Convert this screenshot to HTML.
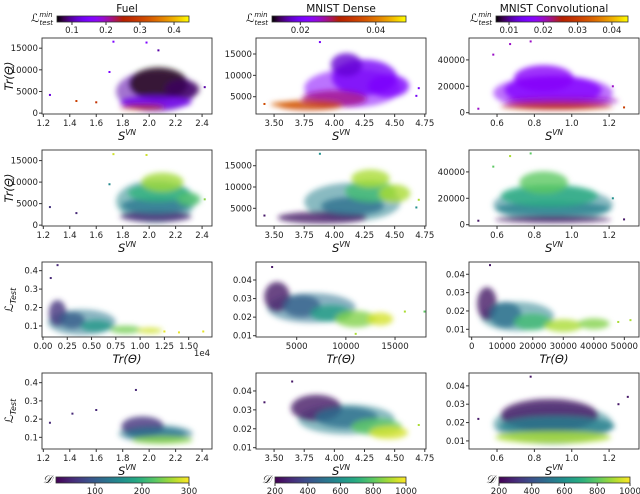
<!DOCTYPE html>
<html><head><meta charset="utf-8">
<style>
body{margin:0;background:#fff;}
svg{display:block;font-family:"DejaVu Sans","Liberation Sans",sans-serif;}
.tk{font-size:8.6px;fill:#222;}
.ttl{font-size:10.5px;fill:#111;}
.lbl{font-size:11.5px;fill:#111;font-style:italic;font-family:"DejaVu Sans","Liberation Sans",sans-serif;}
</style></head>
<body>
<svg id="fig" width="640" height="494" viewBox="0 0 640 494">
<defs><filter id="bl" x="-30%" y="-30%" width="160%" height="160%"><feGaussianBlur stdDeviation="2.6"/></filter></defs>
</svg>
<script>
// ---- data (estimated from reference) ----
const colTitles = ["Fuel","MNIST Dense","MNIST Convolutional"];
// clusters: [x, y, rx, ry, colorValue]
const p1Clusters = [[2.05,5000,0.3,4800,0.1],[2.07,6800,0.22,3800,0.06],[2.25,5500,0.13,2200,0.08],[2.05,2500,0.27,1500,0.13],[1.95,1400,0.17,600,0.25]];
const p1Points = [[1.25,4200,0.12],[1.45,2800,0.3],[1.73,16500,0.15],[1.98,16300,0.15],[2.07,14500,0.1],[1.7,9500,0.15],[2.42,6000,0.1],[1.6,2500,0.28]];
const p2Clusters = [[4.15,7000,0.4,4500,0.022],[4.25,9500,0.27,4200,0.02],[4.45,7500,0.17,2700,0.021],[4.1,12500,0.13,2700,0.018],[4.0,4500,0.27,2000,0.027],[3.8,3000,0.27,1200,0.035],[3.6,3200,0.13,600,0.038]];
const p2Points = [[3.42,3300,0.036],[3.88,17800,0.02],[4.68,5200,0.02],[4.7,7000,0.02]];
const p3Clusters = [[0.9,15000,0.32,13000,0.017],[0.9,17000,0.26,11000,0.016],[0.85,26000,0.16,10000,0.017],[0.95,9000,0.3,3000,0.02],[0.92,5000,0.3,3000,0.028]];
const p3Points = [[0.5,3000,0.02],[0.58,44000,0.02],[0.67,52000,0.02],[0.78,54000,0.02],[1.28,4000,0.03],[1.22,20000,0.02]];
const p4Clusters = [[2.05,5500,0.3,5000,150],[2.05,2000,0.27,1300,50],[2.05,4500,0.26,1900,130],[2.07,7500,0.23,2100,200],[2.1,10000,0.16,2200,260],[2.3,6000,0.09,1600,220]];
const p4Points = [[1.25,4200,60],[1.45,2800,50],[1.73,16500,280],[1.98,16300,280],[1.7,9500,150],[2.42,6000,250]];
const p5Clusters = [[4.15,6500,0.4,4500,550],[3.9,2800,0.37,1400,250],[4.15,5500,0.26,2100,500],[4.3,9000,0.21,2600,750],[4.3,12000,0.16,2100,900],[4.5,8500,0.13,2100,900]];
const p5Points = [[3.42,3300,250],[3.88,17800,600],[4.68,5200,600],[4.7,7000,900]];
const p6Clusters = [[0.9,15000,0.32,13000,550],[0.9,4000,0.31,2600,250],[0.9,12000,0.31,5200,550],[0.88,22000,0.26,8500,700],[0.85,32000,0.13,8500,800]];
const p6Points = [[0.5,3000,250],[0.58,44000,800],[0.67,52000,900],[0.78,54000,800],[1.28,4000,250],[1.22,20000,600]];
const p7Clusters = [[0.4,0.12,0.35,0.07,130],[0.15,0.17,0.09,0.07,60],[0.3,0.13,0.13,0.045,100],[0.55,0.1,0.16,0.032,170],[0.85,0.08,0.16,0.022,240],[1.1,0.075,0.13,0.016,280]];
const p7Points = [[0.15,0.43,50],[0.08,0.36,50],[1.65,0.07,290],[1.25,0.07,290],[1.4,0.065,290]];
const p8Clusters = [[6500,0.025,4500,0.008,500],[3000,0.031,1300,0.008,250],[5500,0.026,1900,0.006,450],[8500,0.022,2100,0.0045,650],[11000,0.019,2100,0.0045,850],[13500,0.019,1300,0.0035,950]];
const p8Points = [[2500,0.047,250],[18000,0.023,800],[16000,0.023,900],[11000,0.011,900]];
const p9Clusters = [[15000,0.017,12000,0.008,550],[5000,0.024,3200,0.009,250],[11000,0.018,5200,0.007,500],[20000,0.014,6200,0.0045,750],[30000,0.012,6200,0.0035,900],[40000,0.013,5200,0.003,850]];
const p9Points = [[6000,0.045,250],[52000,0.015,900],[48000,0.014,900]];
const p10Clusters = [[2.05,0.12,0.28,0.05,130],[1.95,0.16,0.16,0.055,60],[2.05,0.12,0.23,0.032,130],[2.1,0.085,0.23,0.022,250]];
const p10Points = [[1.25,0.18,50],[1.42,0.23,50],[1.9,0.36,50],[1.6,0.25,50]];
const p11Clusters = [[4.1,0.025,0.4,0.008,550],[3.85,0.031,0.21,0.007,250],[4.1,0.026,0.26,0.0055,500],[4.35,0.021,0.21,0.0045,800],[4.45,0.018,0.16,0.0035,950]];
const p11Points = [[3.42,0.034,250],[3.65,0.045,250],[4.7,0.022,900]];
const p12Clusters = [[0.9,0.019,0.32,0.011,550],[0.88,0.024,0.26,0.009,250],[0.92,0.018,0.31,0.0055,550],[0.9,0.012,0.31,0.0035,900]];
const p12Points = [[0.5,0.022,250],[0.78,0.045,250],[1.3,0.034,250],[1.25,0.03,250]];
// tick labels
const xTicksFuelS = [1.2,1.4,1.6,1.8,2.0,2.2,2.4];
const xTicksDenseS = [3.50,3.75,4.00,4.25,4.50,4.75];
const xTicksConvS = [0.6,0.8,1.0,1.2];
const yTicksTrFuel = [0,5000,10000,15000];
const yTicksTrDense = [5000,10000,15000];
const yTicksTrConv = [0,20000,40000];
const xTicksTrFuel = [0.00,0.25,0.50,0.75,1.00,1.25,1.50];
const xTicksTrDense = [5000,10000,15000];
const xTicksTrConv = [0,10000,20000,30000,40000,50000];
const yTicksLFuel = [0.1,0.2,0.3,0.4];
const yTicksLMnist = [0.01,0.02,0.03,0.04];
const topCbTicks = [[0.1,0.2,0.3,0.4],[0.02,0.04],[0.01,0.02,0.03,0.04]];
const topCbRange = [[0.056,0.444],[0.0125,0.048],[0.0062,0.0447]];
const botCbTicks = [[100,200,300],[200,400,600,800,1000],[200,400,600,800,1000]];
const botCbRange = [[17,300],[200,1000],[200,1000]];

// ---- colormaps ----
function gnuplot(t){t=Math.max(0,Math.min(1,t));const r=Math.sqrt(t),g=t*t*t,b=Math.max(0,Math.sin(2*Math.PI*t));return `rgb(${Math.round(r*255)},${Math.round(g*255)},${Math.round(b*255)})`;}
const vir=[[68,1,84],[71,44,122],[59,81,139],[44,113,142],[33,144,141],[39,173,129],[92,200,99],[170,220,50],[253,231,37]];
function viridis(t){t=Math.max(0,Math.min(1,t));const f=t*(vir.length-1),i=Math.min(vir.length-2,Math.floor(f)),u=f-i;const c=vir[i].map((v,k)=>Math.round(v+(vir[i+1][k]-v)*u));return `rgb(${c[0]},${c[1]},${c[2]})`;}

const svg=document.getElementById('fig');const NS='http://www.w3.org/2000/svg';
function mk(tag,attrs,parent){const e=document.createElementNS(NS,tag);for(const k in attrs)e.setAttribute(k,attrs[k]);(parent||svg).appendChild(e);return e;}
const colX=[[42,212],[256,426],[469,639]];
const rowY=[[38,114],[150,226],[262,337],[373,449]];
function fmt(v,d){return v.toFixed(d);}
function panel(r,c,xr,yr,xt,xd,yt,yd,clusters,points,cmap,cr,name){
  const [x0,x1]=colX[c],[y0,y1]=rowY[r];
  const sx=v=>x0+(v-xr[0])/(xr[1]-xr[0])*(x1-x0);
  const sy=v=>y1-(v-yr[0])/(yr[1]-yr[0])*(y1-y0);
  const col=v=>cmap((v-cr[0])/(cr[1]-cr[0]));
  const g=mk('g',{});
  
  
  const clip=mk('clipPath',{id:'c'+r+c},g);mk('rect',{x:x0,y:y0,width:x1-x0,height:y1-y0},clip);
  const pts=mk('g',{'clip-path':`url(#c${r}${c})`},g);
  const bl=mk('g',{filter:'url(#bl)'},pts);
  clusters.forEach((d,i)=>{const e=mk('ellipse',{cx:sx(d[0]),cy:sy(d[1]),rx:Math.abs(sx(d[0]+d[2])-sx(d[0])),ry:Math.abs(sy(d[1]+d[3])-sy(d[1])),fill:col(d[4]),opacity:i===0?0.55:0.8},bl);
    
    });
  points.forEach(d=>{const e=mk('rect',{x:sx(d[0])-1,y:sy(d[1])-1,width:2,height:2,fill:col(d[2])},pts);
    
    });
  mk('rect',{x:x0,y:y0,width:x1-x0,height:y1-y0,fill:'none',stroke:'#333','stroke-width':0.9},g);
  xt.forEach(v=>{const X=sx(v);mk('line',{x1:X,x2:X,y1:y1,y2:y1+3,stroke:'#333'},g);const t=mk('text',{x:X,y:y1+12,'text-anchor':'middle',class:'tk'},g);t.textContent=fmt(v,xd);});
  yt.forEach(v=>{const Y=sy(v);mk('line',{x1:x0-3,x2:x0,y1:Y,y2:Y,stroke:'#333'},g);const t=mk('text',{x:x0-4,y:Y+3,'text-anchor':'end',class:'tk'},g);t.textContent=fmt(v,yd);});
}
const cF=[0.056,0.444],cD=[0.0125,0.048],cC=[0.0062,0.0447],dF=[17,300],dM=[200,1000];
panel(0,0,[1.19,2.475],[-200,17350],xTicksFuelS,1,yTicksTrFuel,0,p1Clusters,p1Points,gnuplot,cF,'fuel-trace-vs-entropy');
panel(0,1,[3.35,4.76],[950,18750],xTicksDenseS,2,yTicksTrDense,0,p2Clusters,p2Points,gnuplot,cD,'dense-trace-vs-entropy');
panel(0,2,[0.45,1.36],[-1000,56600],xTicksConvS,1,yTicksTrConv,0,p3Clusters,p3Points,gnuplot,cC,'conv-trace-vs-entropy');
panel(1,0,[1.19,2.475],[-200,17460],xTicksFuelS,1,yTicksTrFuel,0,p4Clusters,p4Points,viridis,dF,'fuel-trace-vs-entropy-d');
panel(1,1,[3.35,4.76],[845,18690],xTicksDenseS,2,yTicksTrDense,0,p5Clusters,p5Points,viridis,dM,'dense-trace-vs-entropy-d');
panel(1,2,[0.45,1.36],[-1000,56600],xTicksConvS,1,yTicksTrConv,0,p6Clusters,p6Points,viridis,dM,'conv-trace-vs-entropy-d');
panel(2,0,[-0.01,1.74],[0.04,0.447],xTicksTrFuel,2,yTicksLFuel,1,p7Clusters,p7Points,viridis,dF,'fuel-loss-vs-trace');
panel(2,1,[860,18150],[0.0093,0.0497],xTicksTrDense,0,yTicksLMnist,2,p8Clusters,p8Points,viridis,dM,'dense-loss-vs-trace');
panel(2,2,[-880,54800],[0.0058,0.0467],xTicksTrConv,0,yTicksLMnist,2,p9Clusters,p9Points,viridis,dM,'conv-loss-vs-trace');
panel(3,0,[1.19,2.475],[0.036,0.453],xTicksFuelS,1,yTicksLFuel,1,p10Clusters,p10Points,viridis,dF,'fuel-loss-vs-entropy');
panel(3,1,[3.35,4.76],[0.0093,0.0495],xTicksDenseS,2,yTicksLMnist,2,p11Clusters,p11Points,viridis,dM,'dense-loss-vs-entropy');
panel(3,2,[0.45,1.36],[0.0056,0.047],xTicksConvS,1,yTicksLMnist,2,p12Clusters,p12Points,viridis,dM,'conv-loss-vs-entropy');

// axis labels
function txt(x,y,s,cls,name,rot){const t=mk('text',{x:x,y:y,'text-anchor':'middle',class:cls});if(rot)t.setAttribute('transform',`rotate(-90 ${x} ${y})`);t.innerHTML=s;return t;}
const SVN='S<tspan font-size="7.5" dy="-5">VN</tspan>';
[0,1,3].forEach(r=>colX.forEach((cx,c)=>txt((cx[0]+cx[1])/2,rowY[r][1]+26,SVN,'lbl','x-axis-title-svn')));
colX.forEach(cx=>txt((cx[0]+cx[1])/2,rowY[2][1]+26,'Tr(Θ)','lbl','x-axis-title-trace'));
txt(13,76,'Tr(Θ)','lbl','y-axis-title-trace',true);
txt(13,188,'Tr(Θ)','lbl','y-axis-title-trace',true);
txt(13,300,'ℒ<tspan font-size="8" dy="3">Test</tspan>','lbl','y-axis-title-loss',true);
txt(13,411,'ℒ<tspan font-size="8" dy="3">Test</tspan>','lbl','y-axis-title-loss',true);
const e4=mk('text',{x:202,y:356,'text-anchor':'middle',class:'tk'});e4.textContent='1e4';


colTitles.forEach((s,c)=>{const t=txt((colX[c][0]+colX[c][1])/2,12,s,'ttl','column-title');});

// colorbars
const topBar=[[57,189],[272,406],[496,628]],botBar=[[56,189],[275,406],[499,630]];
function cbar(xr,y,h,rng,ticks,cmap,dec,name,lab){
  const g=mk('g',{});
  const gid='g'+name;const lg=mk('linearGradient',{id:gid},g);
  for(let i=0;i<=20;i++)mk('stop',{offset:(i*5)+'%','stop-color':cmap(i/20)},lg);
  mk('rect',{x:xr[0],y:y,width:xr[1]-xr[0],height:h,fill:`url(#${gid})`,stroke:'#333','stroke-width':0.8},g);
  ticks.forEach(v=>{const X=xr[0]+(v-rng[0])/(rng[1]-rng[0])*(xr[1]-xr[0]);mk('line',{x1:X,x2:X,y1:y+h,y2:y+h+3,stroke:'#333'},g);const t=mk('text',{x:X,y:y+h+11,'text-anchor':'middle',class:'tk'},g);t.textContent=fmt(v,dec);});
  const l=mk('text',{x:xr[0]-4,y:y+h,'text-anchor':'end',class:'lbl'},g);l.innerHTML=lab;
}
const topLab='ℒ<tspan font-size="7" dy="-5">min</tspan><tspan font-size="7" dx="-13" dy="8">test</tspan>';
const decT=[1,2,2];
topBar.forEach((b,c)=>cbar(b,16,6,topCbRange[c],topCbTicks[c],gnuplot,decT[c],'loss-colorbar-'+c,topLab));
botBar.forEach((b,c)=>cbar(b,477,6,botCbRange[c],botCbTicks[c],viridis,0,'d-colorbar-'+c,'𝒟'));
</script>
</body></html>
